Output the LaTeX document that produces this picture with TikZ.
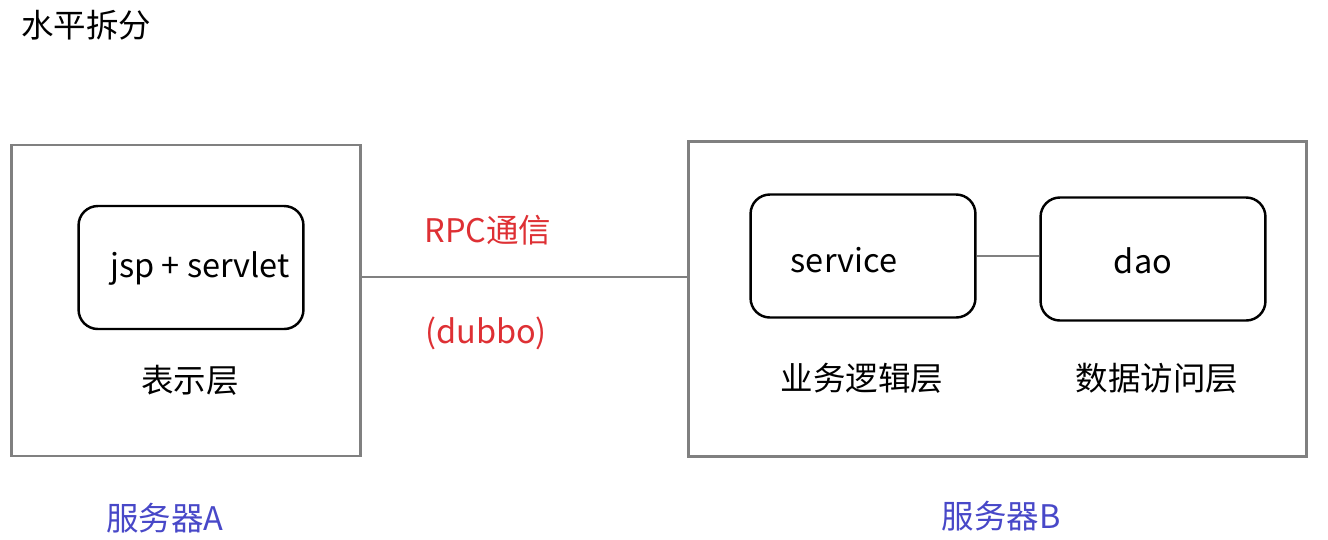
\documentclass[tikz,border=0pt]{standalone}
\usepackage{fontspec}
\setmainfont{Noto Sans CJK SC}
\usepackage{tikz}
\usetikzlibrary{calc}

\definecolor{rpcred}{RGB}{222,48,52}
\definecolor{srvblue}{RGB}{72,72,200}
\definecolor{framegray}{RGB}{128,128,128}

\tikzset{
	server/.style={draw=framegray,line width=1.6pt,minimum width=#1},
	layer/.style={draw,line width=1.4pt,rounded corners=11pt,minimum width=128pt,minimum height=70pt},
	txt/.style={font=\fontsize{18.5}{22}\selectfont},
	link/.style={draw=framegray,line width=1.3pt}
}

\begin{document}
\begin{tikzpicture}[x=0.02cm,y=-0.02cm]
		\useasboundingbox (0,0) rectangle (1328,539);
		\node[txt,anchor=west](title)at(15,25) {水平拆分};
		
		\node[server=199pt,minimum height=177pt](A)at(186,300.5) {};
		\node[server=352pt,minimum height=179pt](B)at(997.5,299) {};
		
		\node[layer](web)at(191,267.5) {};
		\node[layer](svc)at(863,256) {};
		\node[layer](dao)at(1153,259) {};
		
		\node[txt](webt)at(200,268) {jsp + servlet};
		\node[txt](svct)at(844,260) {service};
		\node[txt](daot)at(1143,261) {dao};
		
		\node[txt](webl)at(190,380) {表示层};
		\node[txt](svcl)at(862,378) {业务逻辑层};
		\node[txt](daol)at(1157,378) {数据访问层};
		
		\node[txt,text=rpcred](rpc)at(488,230) {RPC通信};
		\node[txt,text=rpcred](dubbo)at(486,333) {(dubbo)};
		
		\node[txt,text=srvblue](srvA)at(165,518) {服务器A};
		\node[txt,text=srvblue](srvB)at(1001,516) {服务器B};
		
		\draw[link](A.east |- 0,277) -- (B.west |- 0,277);
		\draw[link](svc.east) -- (svc.east -| dao.west);
	\end{tikzpicture}
\end{document}
